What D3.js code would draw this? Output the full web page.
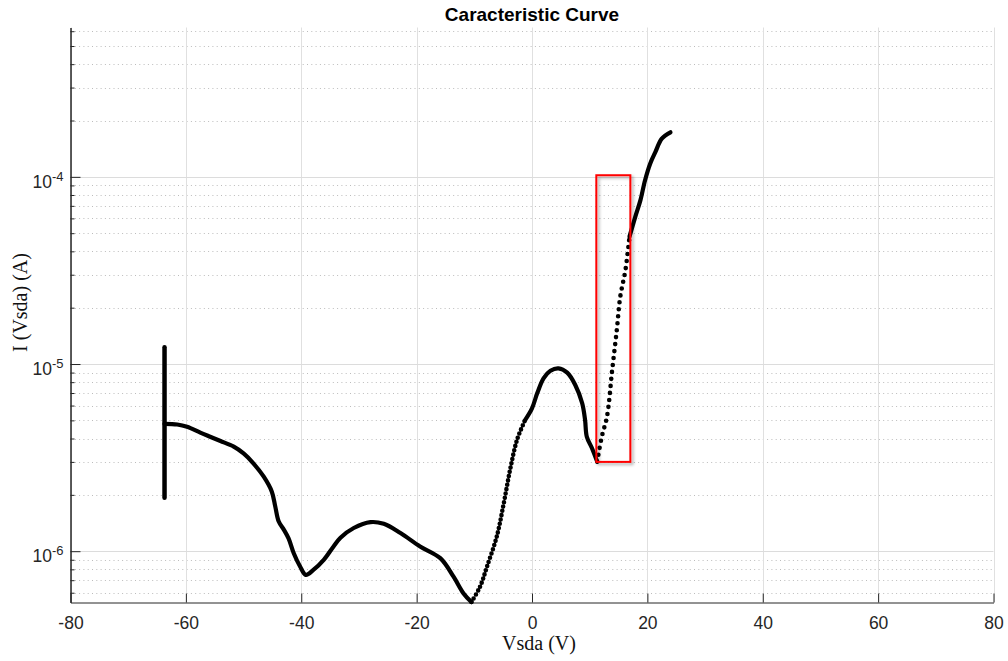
<!doctype html>
<html lang="en">
<head>
  <meta charset="utf-8">
  <title>Caracteristic Curve</title>
  <style>
  body { margin: 0; background: #fff; }
  svg { display: block; }
  .axis path, .axis line { stroke: #262626; }
  .axis text {
    font-family: "Liberation Sans", Arial, sans-serif;
    font-size: 17.5px;
    fill: #262626;
  }
  .title {
    font-family: "Liberation Sans", Arial, sans-serif;
    font-weight: bold;
    font-size: 19px;
    fill: #000;
  }
  .label {
    font-family: "Liberation Serif", "Times New Roman", serif;
    font-size: 20px;
    fill: #111;
  }
  </style>
</head>
<body>
  <div id="chart"></div>
  <script src="https://d3js.org/d3.v7.min.js"></script>
  <script>
// sweep (V, A)
var voltage = [
  -63.7, -61.5, -59.8, -57.5, -55.8, -54.0, -51.7, -50.0, -48.3, -46.5,
  -45.1, -44.5, -43.9, -43.0, -42.2, -41.3, -40.2, -39.2, -37.9, -36.1,
  -34.4, -33.2, -30.9, -28.0, -25.7, -22.8, -19.4, -15.9, -13.6, -11.9,
  -10.5, -9.0, -7.8, -6.1, -4.9, -3.8, -2.6, -1.2, 0.0, 0.9,
  2.0, 3.2, 4.6, 6.1, 7.5, 8.7, 9.2, 9.5, 10.4, 11.3,
  12.1, 13.0, 13.9, 14.7, 15.3, 16.2, 16.9, 17.9, 18.8, 19.6,
  20.5, 21.4, 22.5, 24.0
];
var current = [
  4.79e-6, 4.75e-6, 4.62e-6, 4.30e-6, 4.09e-6, 3.88e-6, 3.62e-6, 3.33e-6, 2.95e-6, 2.50e-6,
  2.08e-6, 1.73e-6, 1.44e-6, 1.30e-6, 1.17e-6, 9.75e-7, 8.28e-7, 7.47e-7, 7.94e-7, 8.99e-7,
  1.06e-6, 1.18e-6, 1.33e-6, 1.43e-6, 1.40e-6, 1.25e-6, 1.06e-6, 9.18e-7, 7.31e-7, 5.97e-7,
  5.35e-7, 6.47e-7, 8.28e-7, 1.20e-6, 1.80e-6, 2.72e-6, 3.93e-6, 5.02e-6, 5.80e-6, 6.97e-6,
  8.39e-6, 9.21e-6, 9.48e-6, 8.99e-6, 7.73e-6, 6.17e-6, 5.02e-6, 4.09e-6, 3.55e-6, 3.01e-6,
  4.09e-6, 5.24e-6, 9.29e-6, 1.52e-5, 2.29e-5, 3.18e-5, 4.79e-5, 6.11e-5, 7.51e-5, 9.60e-5,
  1.18e-4, 1.36e-4, 1.60e-4, 1.73e-4
];
// vertical burst at the start of the sweep
var startV = [-63.7, -63.7];
var startI = [1.93e-6, 1.23e-5];

// highlighted region [V], [A]
var boxV = [11.15, 17.05];
var boxI = [3.0e-6, 1.02e-4];

var xTicks = [-80, -60, -40, -20, 0, 20, 40, 60, 80];
var yTicks = [1e-6, 1e-5, 1e-4];
var yTickExp = ["-6", "-5", "-4"];
var yMinor = [6e-7, 7e-7, 8e-7, 9e-7,
  2e-6, 3e-6, 4e-6, 5e-6, 6e-6, 7e-6, 8e-6, 9e-6,
  2e-5, 3e-5, 4e-5, 5e-5, 6e-5, 7e-5, 8e-5, 9e-5,
  2e-4, 3e-4, 4e-4, 5e-4, 6e-4];

(function() {
  var width = 1008, height = 661;
  var left = 70.5, right = 993.5, top = 27.5, bottom = 602.5;

  var x = d3.scaleLinear().domain([-80, 80]).range([left, right]);
  var y = d3.scaleLog().domain([5.32e-7, 6.28e-4]).range([bottom, top]);

  var svg = d3.select("#chart").append("svg")
      .attr("width", width)
      .attr("height", height);

  var defs = svg.append("defs");
  var f = defs.append("filter").attr("id", "shadow")
      .attr("x", "-20%").attr("y", "-20%").attr("width", "140%").attr("height", "140%");
  f.append("feDropShadow").attr("dx", 2).attr("dy", 2)
      .attr("stdDeviation", 1.5).attr("flood-color", "#000").attr("flood-opacity", 0.35);

  // grid
  var grid = svg.append("g");
  grid.selectAll("line.minor").data(yMinor).enter().append("line")
      .attr("x1", left).attr("x2", right)
      .attr("y1", function(d) { return Math.round(y(d)) + 0.5; })
      .attr("y2", function(d) { return Math.round(y(d)) + 0.5; })
      .attr("stroke", "#bcbcbc").attr("stroke-dasharray", "1 3.3");
  grid.selectAll("line.vx").data(xTicks).enter().append("line")
      .attr("x1", function(d) { return Math.round(x(d)) + 0.5; })
      .attr("x2", function(d) { return Math.round(x(d)) + 0.5; })
      .attr("y1", top).attr("y2", bottom)
      .attr("stroke", "#e0e0e0");
  grid.selectAll("line.hy").data(yTicks).enter().append("line")
      .attr("x1", left).attr("x2", right)
      .attr("y1", function(d) { return Math.round(y(d)) + 0.5; })
      .attr("y2", function(d) { return Math.round(y(d)) + 0.5; })
      .attr("stroke", "#dcdcdc");

  // axes
  svg.append("g").attr("class", "axis")
      .attr("transform", "translate(0," + bottom + ")")
      .call(d3.axisBottom(x).tickValues(xTicks).tickSizeInner(-9).tickSizeOuter(0).tickPadding(14)
        .tickFormat(function(d) { return String(d); }));

  svg.append("g").attr("class", "axis")
      .attr("transform", "translate(" + left + ",0)")
      .call(d3.axisLeft(y).tickValues(yMinor).tickSizeInner(-4).tickSizeOuter(0).tickFormat(""));

  var yAxis = svg.append("g").attr("class", "axis")
      .attr("transform", "translate(" + left + ",0)")
      .call(d3.axisLeft(y).tickValues(yTicks).tickSizeInner(-10).tickSizeOuter(0).tickPadding(7).tickFormat(""));

  yAxis.selectAll(".tick text").each(function(d, i) {
    var t = d3.select(this).attr("dy", null).attr("y", 10.5);
    t.text(null);
    t.append("tspan").text("10");
    t.append("tspan").attr("dy", -7).style("font-size", "13px").text(yTickExp[i]);
  });

  // sweep
  var pts = d3.zip(voltage, current);
  var line = d3.line()
      .x(function(d) { return x(d[0]); })
      .y(function(d) { return y(d[1]); })
      .curve(d3.curveCatmullRom.alpha(0.5));

  // segments where the samples are dense (solid) or spread out (dots)
  var segments = [
    { from: -63.7, to: -10.5, gap: 0 },
    { from: -10.5, to: -1.2, gap: 4.4 },
    { from: -1.2, to: 11.3, gap: 0 },
    { from: 11.3, to: 16.9, gap: 7 },
    { from: 16.9, to: 24.0, gap: 0 }
  ];
  var curve = svg.append("g")
      .attr("fill", "none").attr("stroke", "#000")
      .attr("stroke-linecap", "round").attr("stroke-linejoin", "round");

  curve.append("path")
      .attr("d", line(d3.zip(startV, startI)))
      .attr("stroke-width", 4.5);

  segments.forEach(function(s) {
    var seg = pts.filter(function(p) { return p[0] >= s.from && p[0] <= s.to; });
    var p = curve.append("path")
        .attr("d", line(seg))
        .attr("stroke-width", s.gap ? 4.6 : 4.2);
    if (s.gap) p.attr("stroke-dasharray", "0 " + s.gap);
  });

  // highlight box
  svg.append("rect")
      .attr("x", x(boxV[0]))
      .attr("y", y(boxI[1]))
      .attr("width", x(boxV[1]) - x(boxV[0]))
      .attr("height", y(boxI[0]) - y(boxI[1]))
      .attr("fill", "none")
      .attr("stroke", "#ff0000")
      .attr("stroke-width", 2)
      .attr("filter", "url(#shadow)");

  // texts
  svg.append("text").attr("class", "title")
      .attr("x", (left + right) / 2).attr("y", 21)
      .attr("text-anchor", "middle")
      .text("Caracteristic Curve");

  svg.append("text").attr("class", "label")
      .attr("x", 539).attr("y", 650)
      .attr("text-anchor", "middle")
      .text("Vsda (V)");

  svg.append("text").attr("class", "label")
      .attr("transform", "translate(27,302.5) rotate(-90)")
      .attr("text-anchor", "middle")
      .text("I (Vsda) (A)");
})();
  </script>
</body>
</html>
